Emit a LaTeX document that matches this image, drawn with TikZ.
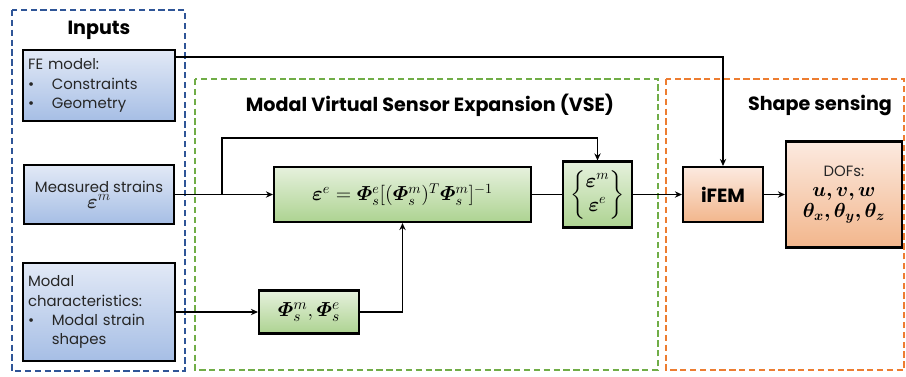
\documentclass[tikz,border=0pt]{standalone}
\usepackage{fontspec}
\setmainfont{Poppins}
\usepackage{amsmath}
\usepackage{bm}
\usetikzlibrary{positioning}
\usetikzlibrary{arrows.meta}
\usetikzlibrary{calc}

\definecolor{inblue}{HTML}{2F5597}
\definecolor{vsegreen}{HTML}{70AD47}
\definecolor{shapeorange}{HTML}{ED7D31}
\definecolor{bluetop}{HTML}{E2E9F6}
\definecolor{bluebot}{HTML}{A6BEE5}
\definecolor{greentop}{HTML}{E6F1DD}
\definecolor{greenbot}{HTML}{ADD391}
\definecolor{orangetop}{HTML}{FCEAE0}
\definecolor{orangebot}{HTML}{F2B68C}

\begin{document}
\begin{tikzpicture}[
    >={Stealth[length=5pt,width=4.5pt]},
    every node/.style={font=\fontsize{10.6}{13.6}\selectfont, text=black!85},
    inbox/.style={draw=black, line width=1.5pt, top color=bluetop, bottom color=bluebot, minimum width=3.75cm},
    vsebox/.style={draw=black, line width=1.5pt, top color=greentop, bottom color=greenbot},
    shapebox/.style={draw=black, line width=1.5pt, top color=orangetop, bottom color=orangebot},
    frame/.style={line width=1.4pt, dash pattern=on 4.5pt off 2.5pt},
    heading/.style={font=\fontsize{13.6}{16}\selectfont\bfseries, text=black},
    eqn/.style={font=\fontsize{14.5}{17}\selectfont, text=black},
    conn/.style={line width=1.1pt}
]
    \useasboundingbox (0,0) rectangle (22.65,-9.4);

    % Frames
    \draw[frame, inblue] (0.3,-0.25) rectangle (4.625,-9.275);
    \draw[frame, vsegreen] (4.875,-1.975) rectangle (16.45,-9.25);
    \draw[frame, shapeorange] (16.65,-1.975) rectangle (22.6,-9.25);

    \node[heading] (tin) at (2.475,-0.75) {Inputs};
    \node[heading] (tvse) at (10.75,-2.625) {Modal Virtual Sensor Expansion (VSE)};
    \node[heading] (tshape) at (20.5,-2.625) {Shape sensing};

    % Inputs
    \node[inbox, minimum height=1.775cm, text width=3.55cm, align=left] (fe) at (2.475,-2.1375)
        {FE model:\\\makebox[1.6em][l]{\textbullet}Constraints\\\makebox[1.6em][l]{\textbullet}Geometry};
    \node[inbox, minimum height=1.475cm, align=center] (meas) at (2.475,-4.8625)
        {Measured strains\\[-2pt]{\fontsize{14}{16}\selectfont$\bm{\varepsilon}^m$}};
    \node[inbox, minimum height=2.45cm, text width=3.55cm, align=left] (modal) at (2.475,-7.8)
        {Modal\\characteristics:\\\makebox[1.6em][l]{\textbullet}Modal strain\\\hspace*{1.6em}shapes};

    % VSE
    \node[vsebox, eqn, minimum width=6.425cm, minimum height=1.375cm] (vse) at (10.0625,-4.8625)
        {$\bm{\varepsilon}^e=\bm{\varPhi}_s^e[(\bm{\varPhi}_s^m)^T\bm{\varPhi}_s^m]^{-1}$};
    \node[vsebox, eqn, minimum width=1.725cm, minimum height=1.65cm, inner sep=1pt] (stack) at (14.9375,-4.8625)
        {$\left\{\begin{matrix}\bm{\varepsilon}^m\\\bm{\varepsilon}^e\end{matrix}\right\}$};
    \node[vsebox, eqn, font=\fontsize{15.5}{18}\selectfont, minimum width=2.5cm, minimum height=1.075cm] (phi) at (7.725,-7.8)
        {$\bm{\varPhi}_s^m,\bm{\varPhi}_s^e$};

    % Shape sensing
    \node[shapebox, font=\fontsize{13.6}{16}\selectfont\bfseries, text=black, minimum width=2cm, minimum height=1.375cm] (ifem) at (18.075,-4.8625) {iFEM};
    \node[shapebox, minimum width=2.9cm, minimum height=2.65cm, align=center] (dofs) at (21.1,-4.8625)
        {DOFs:\\[1pt]{\fontsize{14.5}{17}\selectfont\color{black}$\bm{u,v,w}$}\\[1pt]{\fontsize{14.5}{17}\selectfont\color{black}$\bm{\theta_x,\theta_y,\theta_z}$}};

    % Connectors
    \coordinate (split) at (5.55,-4.8625);
    \coordinate (loop) at (14.9375,-3.45);
    \coordinate (feout) at ($(fe.north east)+(0,-0.2)$);
    \draw[conn, ->] (meas.east) -- (vse.west);
    \draw[conn, ->] (split) |- (loop) -- (stack.north);
    \draw[conn] (vse.east) -- (stack.west);
    \draw[conn, ->] (stack.east) -- (ifem.west);
    \draw[conn, ->] (ifem.east) -- (dofs.west);
    \draw[conn, ->] (modal.east) -- (phi.west);
    \draw[conn, ->] (phi.east) -| (vse.south);
    \draw[conn, ->] (feout) -| (ifem.north);
\end{tikzpicture}
\end{document}
